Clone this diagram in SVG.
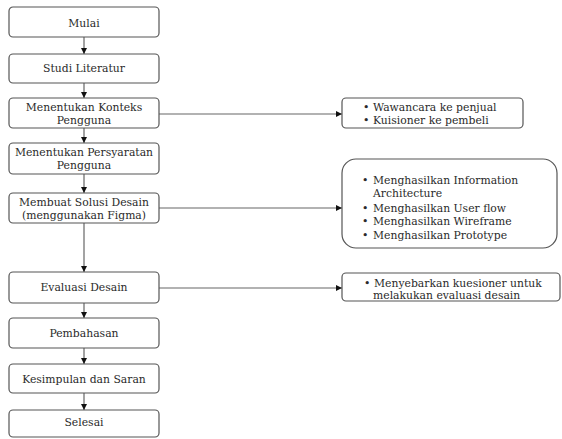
<svg xmlns="http://www.w3.org/2000/svg" width="562" height="439" viewBox="0 0 562 439">
<style>
.box{fill:#fff;stroke:#555;stroke-width:1.2}
.t{font-family:"DejaVu Serif","Liberation Serif",serif;font-size:10.8px;fill:#2a2a2a}
.c{text-anchor:middle}
.ln{stroke:#666;stroke-width:1.2;fill:none;marker-end:url(#ah)}
</style>
<defs>
<marker id="ah" viewBox="0 0 10 10" refX="10" refY="5" markerWidth="6" markerHeight="6" markerUnits="userSpaceOnUse" orient="auto">
<path d="M0,0 L10,5 L0,10 z" fill="#111"/>
</marker>
</defs>
<rect width="562" height="439" fill="#fff"/>
<g id="connectors">
<line class="ln" x1="84" y1="37" x2="84" y2="54"/>
<line class="ln" x1="84" y1="83" x2="84" y2="98"/>
<line class="ln" x1="84" y1="128" x2="84" y2="143"/>
<line class="ln" x1="84" y1="174" x2="84" y2="193"/>
<line class="ln" x1="84" y1="223" x2="84" y2="272"/>
<line class="ln" x1="84" y1="303" x2="84" y2="318"/>
<line class="ln" x1="84" y1="348" x2="84" y2="364"/>
<line class="ln" x1="84" y1="393" x2="84" y2="410"/>
<line class="ln" x1="159" y1="114" x2="342" y2="114"/>
<line class="ln" x1="159" y1="208" x2="342" y2="208"/>
<line class="ln" x1="159" y1="288" x2="342" y2="288"/>
</g>
<g id="mulai"><rect class="box" x="9" y="7" width="150" height="30" rx="4"/><text class="t c" x="84" y="27">Mulai</text></g>
<g id="studi"><rect class="box" x="9" y="54" width="150" height="29" rx="4"/><text class="t c" x="84" y="72">Studi Literatur</text></g>
<g id="konteks"><rect class="box" x="9" y="98" width="150" height="30" rx="4"/><text class="t c" x="84" y="111">Menentukan Konteks</text><text class="t c" x="84" y="124">Pengguna</text></g>
<g id="persyaratan"><rect class="box" x="9" y="143" width="150" height="31" rx="4"/><text class="t c" x="84" y="156">Menentukan Persyaratan</text><text class="t c" x="84" y="169">Pengguna</text></g>
<g id="solusi"><rect class="box" x="9" y="193" width="150" height="30" rx="4"/><text class="t c" x="84" y="206">Membuat Solusi Desain</text><text class="t c" x="84" y="218.5">(menggunakan Figma)</text></g>
<g id="evaluasi"><rect class="box" x="9" y="272" width="150" height="31" rx="4"/><text class="t c" x="84" y="291">Evaluasi Desain</text></g>
<g id="pembahasan"><rect class="box" x="9" y="318" width="150" height="30" rx="4"/><text class="t c" x="84" y="337">Pembahasan</text></g>
<g id="kesimpulan"><rect class="box" x="9" y="364" width="150" height="29" rx="4"/><text class="t c" x="84" y="382.5">Kesimpulan dan Saran</text></g>
<g id="selesai"><rect class="box" x="9" y="410" width="150" height="27" rx="4"/><text class="t c" x="84" y="426">Selesai</text></g>
<g id="note1"><rect class="box" x="342" y="98" width="181" height="30" rx="4"/>
<text class="t" x="363" y="111">•</text><text class="t" x="373" y="111">Wawancara ke penjual</text>
<text class="t" x="363" y="123.5">•</text><text class="t" x="373" y="123.5">Kuisioner ke pembeli</text></g>
<g id="note2"><rect class="box" x="342" y="159" width="215" height="89" rx="14"/>
<text class="t" x="362" y="184">•</text><text class="t" x="373" y="184">Menghasilkan Information</text>
<text class="t" x="373" y="197">Architecture</text>
<text class="t" x="362" y="212">•</text><text class="t" x="373" y="212">Menghasilkan User flow</text>
<text class="t" x="362" y="225">•</text><text class="t" x="373" y="225">Menghasilkan Wireframe</text>
<text class="t" x="362" y="238.5">•</text><text class="t" x="373" y="238.5">Menghasilkan Prototype</text></g>
<g id="note3"><rect class="box" x="342" y="273" width="218" height="28" rx="4"/>
<text class="t" x="364" y="286.5">•</text><text class="t" x="374" y="286.5">Menyebarkan kuesioner untuk</text>
<text class="t" x="373" y="298.5">melakukan evaluasi desain</text></g>
</svg>
